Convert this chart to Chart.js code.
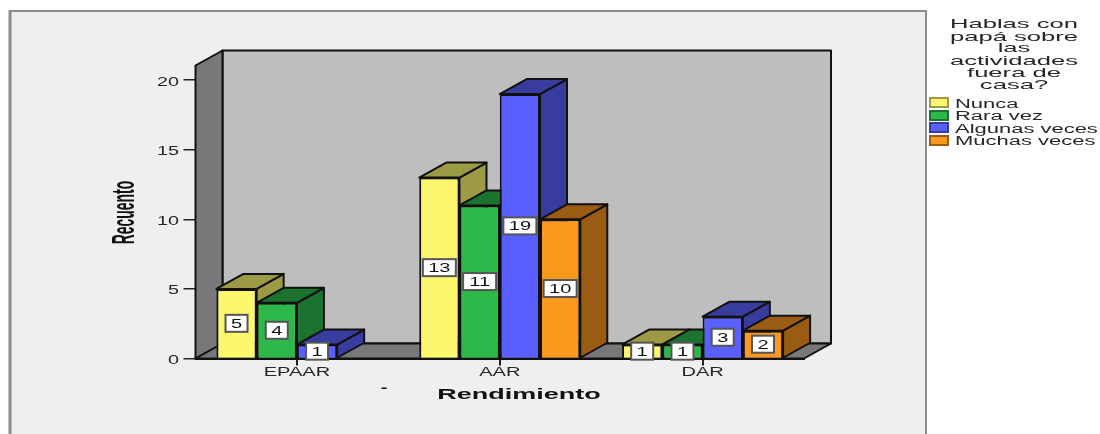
<!DOCTYPE html>
<html><head><meta charset="utf-8">
<style>html,body{margin:0;padding:0;background:#fff}canvas{display:block}</style>
<script src="https://cdn.jsdelivr.net/npm/chart.js@4"></script>
</head><body><canvas id="c" width="1100" height="434"></canvas>
<script>
const categories = ['EPAAR','AAR','DAR'];
const seriesNames = ['Nunca','Rara vez','Algunas veces','Muchas veces'];
const nunca = [5,13,1];
const raraVez = [4,11,1];
const algunasVeces = [1,19,3];
const muchasVeces = [null,10,2];
const yTicks = [0,5,10,15,20];
const legendTitle = ['Hablas con','papá sobre','las','actividades','fuera de','casa?'];
const xTitle = 'Rendimiento';
const yTitle = 'Recuento';
const frontColors = ['#FDF76E','#2DB84B','#5A60FF','#FB981E'];
const darkColors = ['#9C9A45','#1B732F','#383C9E','#995C12'];
const DX = 27, DY = 15;

function stretched(ctx, text, x, y, o) {
  o = o || {};
  ctx.save();
  ctx.translate(x, y);
  if (o.rot) ctx.rotate(o.rot);
  ctx.scale(o.sx || 1.67, 1);
  ctx.font = o.font || '12px "Liberation Sans"';
  ctx.fillStyle = o.color || '#262626';
  ctx.textAlign = o.align || 'center';
  ctx.textBaseline = 'alphabetic';
  ctx.fillText(text, 0, 0);
  ctx.restore();
}
function poly(ctx, pts, fill, lw) {
  ctx.beginPath();
  pts.forEach((p, i) => i ? ctx.lineTo(p[0], p[1]) : ctx.moveTo(p[0], p[1]));
  ctx.closePath();
  ctx.fillStyle = fill;
  ctx.fill();
  ctx.strokeStyle = '#111';
  ctx.lineWidth = lw || 2;
  ctx.lineJoin = 'round';
  ctx.stroke();
}
const bars3d = {
  id: 'bars3d',
  beforeDraw(chart) {
    const ctx = chart.ctx;
    ctx.save();
    ctx.fillStyle = '#fff';
    ctx.fillRect(0, 0, 1100, 434);
    ctx.fillStyle = '#EFEFEF';
    ctx.fillRect(10, 11, 916, 423);
    ctx.fillStyle = '#8C8C8C';
    ctx.fillRect(9, 10, 918, 2);
    ctx.fillRect(8.5, 10, 3, 424);
    ctx.fillRect(925, 10, 2, 424);
    ctx.restore();
  },
  beforeDatasetsDraw(chart) {
    const ctx = chart.ctx, a = chart.chartArea;
    ctx.save();
    poly(ctx, [[a.left + DX, a.top - DY], [a.right + DX, a.top - DY], [a.right + DX, a.bottom - DY], [a.left + DX, a.bottom - DY]], '#BEBEBE');
    poly(ctx, [[a.left, a.top], [a.left + DX, a.top - DY], [a.left + DX, a.bottom - DY], [a.left, a.bottom]], '#787878');
    poly(ctx, [[a.left, a.bottom], [a.left + DX, a.bottom - DY], [a.right + DX, a.bottom - DY], [a.right, a.bottom]], '#787878');
    ctx.restore();
  },
  beforeDatasetDraw() { return false; },
  afterDatasetsDraw(chart) {
    const ctx = chart.ctx;
    const metas = chart.data.datasets.map((d, i) => chart.getDatasetMeta(i));
    categories.forEach((c, ci) => {
      metas.forEach((m, di) => {
        const el = m.data[ci];
        if (!el || chart.data.datasets[di].data[ci] === null) return;
        const w = el.width, l = el.x - w / 2, r = el.x + w / 2, t = el.y, b = el.base;
        ctx.save();
        poly(ctx, [[r, t], [r + DX, t - DY], [r + DX, b - DY], [r, b]], darkColors[di]);
        poly(ctx, [[l, t], [l + DX, t - DY], [r + DX, t - DY], [r, t]], darkColors[di]);
        ctx.restore();
        el.draw(ctx);
      });
    });
    metas.forEach((m, di) => {
      categories.forEach((c, ci) => {
        const el = m.data[ci], v = chart.data.datasets[di].data[ci];
        if (!el || v === null) return;
        const txt = String(v), bw = txt.length > 1 ? 33 : 22, bh = 17;
        const cy = (el.y + el.base) / 2;
        ctx.save();
        ctx.fillStyle = '#fff';
        ctx.strokeStyle = '#555';
        ctx.lineWidth = 2;
        ctx.fillRect(el.x - bw / 2, cy - bh / 2, bw, bh);
        ctx.strokeRect(el.x - bw / 2, cy - bh / 2, bw, bh);
        ctx.restore();
        stretched(ctx, txt, el.x, cy + 4.5, {color: '#111'});
      });
    });
  },
  afterDraw(chart) {
    const ctx = chart.ctx, xs = chart.scales.x, ys = chart.scales.y;
    categories.forEach((c, i) => stretched(ctx, c, xs.getPixelForValue(i), 375.5));
    yTicks.forEach(v => stretched(ctx, String(v), 179, ys.getPixelForValue(v) + 5.5, {align: 'right', sx: 1.65}));
    stretched(ctx, xTitle, 519, 399, {font: 'bold 15px "Liberation Sans"', sx: 1.8, color: '#111'});
    stretched(ctx, yTitle, 134, 212.5, {font: 'bold 31px "Liberation Sans"', sx: 0.45, rot: -Math.PI / 2, color: '#111'});
    stretched(ctx, '-', 384, 392, {font: 'bold 12px "Liberation Sans"', color: '#111'});
    const tb = [28, 40.5, 52, 64.5, 77, 89];
    legendTitle.forEach((s, i) => stretched(ctx, s, 1014, tb[i], {font: '13px "Liberation Sans"', sx: 1.97}));
    const sy = [98, 111, 123, 136], lb = [108, 120, 133, 145];
    seriesNames.forEach((s, i) => {
      ctx.save();
      ctx.fillStyle = frontColors[i];
      ctx.strokeStyle = darkColors[i];
      ctx.lineWidth = 2;
      ctx.fillRect(930, sy[i], 18, 9);
      ctx.strokeRect(930, sy[i], 18, 9);
      ctx.restore();
      stretched(ctx, s, 955, lb[i], {align: 'left', sx: 1.83});
    });
  }
};
const seriesValues = [nunca, raraVez, algunasVeces, muchasVeces];
new Chart(document.getElementById('c'), {
  type: 'bar',
  data: {
    labels: categories,
    datasets: seriesNames.map((n, i) => ({
      label: n, data: seriesValues[i],
      backgroundColor: frontColors[i], borderColor: '#111', borderWidth: 2,
      categoryPercentage: 0.794, barPercentage: 1
    }))
  },
  options: {
    responsive: false, animation: false, devicePixelRatio: 1,
    layout: {padding: {top: 65.5, right: 296, left: 0, bottom: 0}},
    plugins: {legend: {display: false}, tooltip: {enabled: false}},
    scales: {
      x: {
        grid: {drawOnChartArea: false, drawTicks: true, tickLength: 7, offset: false, color: '#222', tickColor: '#222', tickWidth: 2, lineWidth: 2},
        border: {display: true, color: '#111', width: 2},
        ticks: {display: false},
        afterFit(s) { s.height = 75.5; }
      },
      y: {
        min: 0, max: 21.05,
        grid: {drawOnChartArea: false, drawTicks: true, tickLength: 12, color: '#222', lineWidth: 1.5},
        border: {display: true, color: '#111', width: 2},
        ticks: {display: false, stepSize: 5},
        afterBuildTicks(s) { s.ticks = yTicks.map(v => ({value: v})); },
        afterFit(s) { s.width = 195.5; }
      }
    }
  },
  plugins: [bars3d]
});
</script></body></html>
